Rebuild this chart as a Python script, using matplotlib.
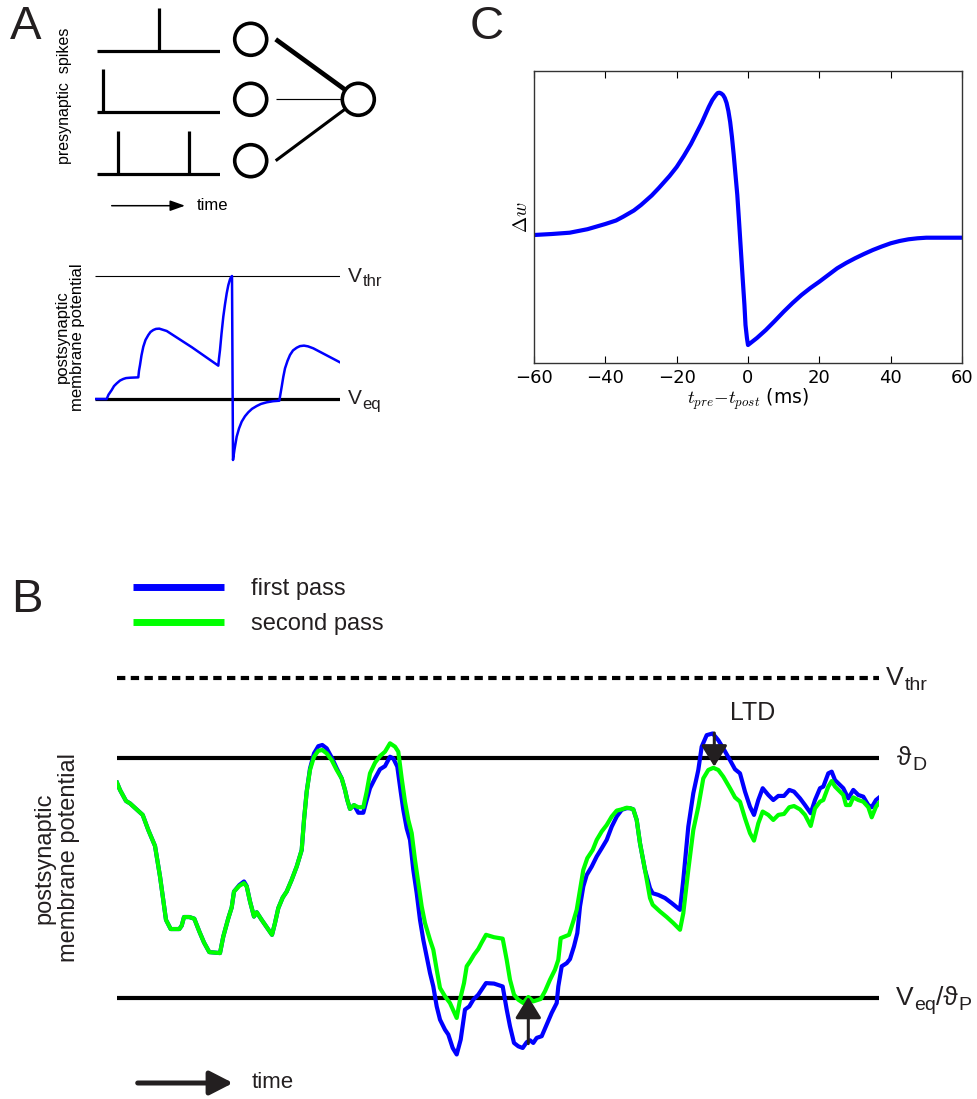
import matplotlib
matplotlib.use('Agg')
import matplotlib.pyplot as plt
from matplotlib.patches import Circle, FancyArrowPatch
from matplotlib.lines import Line2D

plt.rcParams['font.family'] = ['Liberation Sans', 'DejaVu Sans']

W, H = 978, 1099
INK = '#231f20'
BLUE = '#0000ff'
GREEN = '#00ff00'

# ---------------- data ----------------
# panel A: presynaptic spike trains (normalised time), top row first
spike_trains = [[0.50], [0.05], [0.17, 0.75]]
syn_weights = [1.0, 0.25, 0.65]

# panel A: postsynaptic membrane potential (0 = V_eq, 1 = V_thr)
mem_t = [0, 11.7, 13.5, 16.7, 19, 21.7, 25, 28.3, 31, 35, 43.3, 44, 45, 46.5, 48.3, 50.5, 53.3,
         55.5, 58.3, 61, 64.3, 71.7, 97, 123.3, 124, 125, 126.5, 128.3, 130, 131.7, 133.3, 135,
         136, 137, 138, 139.5, 141.7, 144, 146.7, 150, 153.3, 157, 161.7, 166, 171.7, 178, 184.3,
         186.7, 188.3, 190, 192.5, 195, 198, 201.7, 205, 209, 213, 218.3, 245]
mem_v = [0, 0, 0.035, 0.073, 0.105, 0.127, 0.15, 0.163, 0.17, 0.173, 0.176, 0.23, 0.276, 0.355,
         0.425, 0.48, 0.52, 0.545, 0.561, 0.57, 0.572, 0.553, 0.42, 0.271, 0.33, 0.398, 0.53,
         0.669, 0.77, 0.859, 0.925, 0.973, 0.99, 1.0, -0.496, -0.41, -0.306, -0.24, -0.184, -0.14,
         -0.108, -0.08, -0.057, -0.04, -0.027, -0.018, -0.014, 0.1, 0.18, 0.249, 0.31, 0.358,
         0.395, 0.417, 0.43, 0.434, 0.428, 0.412, 0.298]

# panel B: membrane potential, two passes (0 = V_eq / theta_P, 1 = theta_D)
V_EQ, THETA_D, V_THR = 0.0, 1.0, 1.332

first_t = [0, 3, 9, 13, 19.7, 25.7, 31.3, 38, 43, 49, 53.7, 62.3, 64.7, 67, 72.3, 77.3, 82.3, 87,
           92.3, 103, 106.3, 111.3, 114.7, 117, 122.3, 127, 129.7, 133, 137, 139.7, 144.7, 149.7,
           155, 158, 161.3, 165.7, 169.7, 174.7, 179.7, 184.7, 187, 189.7, 193, 197, 201.3, 205.3,
           209.7, 214.7, 219.7, 224.7, 228, 230.3, 233, 237, 241.3, 246.3, 249.7, 253, 258, 263,
           268, 273, 276.3, 280.3, 283.7, 286.3, 289.7, 293, 296.3, 299.7, 303, 306.3, 309.7, 313,
           316.3, 319.7, 323, 328, 331.3, 335.7, 339.7, 343.7, 348, 352.3, 356.3, 361.3, 364.7,
           369, 377, 385.7, 389.7, 393, 397, 401.3, 405.7, 409.7, 413, 416.3, 419.7, 424.7, 429.7,
           434.7, 439.7, 441.3, 444.7, 449.7, 453, 457, 460.3, 463, 466.3, 469.7, 474.7, 479.7,
           484.7, 489.7, 494.7, 499.7, 504.7, 509.7, 513, 516.3, 519.7, 523, 528, 533, 535.7,
           541.3, 548, 554.7, 563, 566.3, 571.3, 576.3, 581.3, 584.7, 589.7, 595.7, 601.3, 606.3,
           613, 618, 623, 628, 633, 637, 641.3, 645.7, 651.3, 656.3, 661.3, 667, 672.3, 677, 683,
           688, 693.7, 698, 703, 706.3, 711.3, 714.7, 718, 726.3, 731.3, 736.3, 741.3, 746.3,
           751.3, 754.7, 759, 762.3]
first_v = [0.896, 0.866, 0.820, 0.810, 0.785, 0.762, 0.699, 0.633, 0.506, 0.325, 0.287, 0.287,
           0.301, 0.337, 0.337, 0.330, 0.277, 0.231, 0.191, 0.187, 0.256, 0.332, 0.377, 0.443,
           0.470, 0.485, 0.466, 0.402, 0.339, 0.357, 0.325, 0.295, 0.263, 0.312, 0.374, 0.418,
           0.443, 0.492, 0.547, 0.616, 0.741, 0.859, 0.955, 1.018, 1.048, 1.053, 1.039, 1.001,
           0.956, 0.914, 0.866, 0.824, 0.787, 0.803, 0.771, 0.771, 0.824, 0.873, 0.914, 0.952,
           0.965, 1.004, 0.997, 0.963, 0.859, 0.783, 0.706, 0.658, 0.533, 0.436, 0.325, 0.242,
           0.173, 0.104, 0.048, -0.035, -0.090, -0.132, -0.152, -0.208, -0.235, -0.173, -0.048,
           -0.035, -0.007, 0.014, 0.035, 0.062, 0.060, 0.048, -0.048, -0.118, -0.187, -0.201,
           -0.208, -0.184, -0.176, -0.187, -0.166, -0.159, -0.111, -0.062, -0.021, 0.048, 0.132,
           0.145, 0.162, 0.215, 0.270, 0.381, 0.464, 0.512, 0.547, 0.589, 0.623, 0.658, 0.713,
           0.755, 0.783, 0.790, 0.790, 0.785, 0.741, 0.644, 0.533, 0.457, 0.436, 0.429, 0.416,
           0.395, 0.367, 0.492, 0.713, 0.852, 0.949, 1.046, 1.094, 1.101, 1.073, 1.039, 0.990,
           0.952, 0.935, 0.859, 0.796, 0.762, 0.824, 0.873, 0.845, 0.824, 0.841, 0.841, 0.866,
           0.859, 0.831, 0.803, 0.769, 0.824, 0.873, 0.880, 0.935, 0.942, 0.907, 0.873, 0.831,
           0.866, 0.845, 0.838, 0.803, 0.794, 0.824, 0.835]

second_t = [0, 3, 9, 13, 19.7, 25.7, 31.3, 38, 43, 49, 53.7, 62.3, 64.7, 67, 72.3, 77.3, 82.3, 87,
            92.3, 103, 106.3, 111.3, 114.7, 117, 122.3, 127, 129.7, 133, 137, 139.7, 144.7, 149.7,
            155, 158, 161.3, 165.7, 169.7, 174.7, 179.7, 184.7, 187, 189.7, 193, 197, 201.3, 205.3,
            209.7, 214.7, 219.7, 224.7, 228, 230.3, 233, 237, 241.3, 246.3, 249.7, 253, 258, 263,
            268, 273, 278, 281.3, 284.7, 288, 291.3, 294.7, 298, 301.3, 304.7, 308, 313, 316.3,
            319.7, 323, 328, 333, 339.7, 343, 347, 349.7, 353, 357, 361.3, 364.7, 369, 377, 385.7,
            389.7, 393, 397, 401.3, 406.3, 411.3, 416.3, 423.7, 428, 433, 438, 441.3, 443.7, 448,
            452, 456.3, 459.7, 463, 466.3, 470.3, 475.7, 479.7, 484.7, 489.7, 494.7, 499.7, 504.7,
            509.7, 513, 516.3, 519.7, 523, 528, 533, 535.7, 543, 549.7, 556.3, 563, 566.3, 571.3,
            576.3, 581.3, 586.3, 591.3, 596.3, 601.3, 606.3, 613, 618, 623, 628, 633, 637, 641.3,
            645.7, 651.3, 656.3, 661.3, 667, 672.3, 677, 683, 688, 693.7, 698, 703, 706.3, 711.3,
            714.7, 718, 726.3, 729, 733, 736.3, 741.3, 746.3, 751.3, 754.7, 759, 762.3]
second_v = [0.896, 0.866, 0.820, 0.810, 0.785, 0.762, 0.699, 0.633, 0.506, 0.325, 0.287, 0.287,
            0.301, 0.337, 0.337, 0.330, 0.277, 0.231, 0.191, 0.187, 0.256, 0.332, 0.377, 0.443,
            0.467, 0.478, 0.464, 0.402, 0.339, 0.357, 0.325, 0.295, 0.263, 0.312, 0.374, 0.418,
            0.443, 0.492, 0.547, 0.616, 0.741, 0.859, 0.949, 1.004, 1.029, 1.032, 1.018, 0.990,
            0.949, 0.914, 0.866, 0.824, 0.787, 0.803, 0.794, 0.794, 0.859, 0.935, 0.979, 1.007,
            1.025, 1.060, 1.046, 1.025, 0.914, 0.817, 0.741, 0.686, 0.575, 0.478, 0.381, 0.312,
            0.242, 0.201, 0.118, 0.042, 0.007, -0.021, -0.083, -0.007, 0.062, 0.132, 0.152, 0.180,
            0.204, 0.231, 0.263, 0.253, 0.247, 0.159, 0.076, 0.014, -0.007, -0.021, 0.004, -0.014,
            -0.004, 0.028, 0.076, 0.118, 0.159, 0.249, 0.256, 0.263, 0.319, 0.367, 0.450, 0.533,
            0.582, 0.616, 0.658, 0.693, 0.720, 0.755, 0.780, 0.785, 0.792, 0.790, 0.785, 0.741,
            0.644, 0.533, 0.416, 0.388, 0.360, 0.337, 0.312, 0.284, 0.353, 0.533, 0.699, 0.796,
            0.914, 0.949, 0.958, 0.949, 0.921, 0.873, 0.835, 0.817, 0.748, 0.686, 0.655, 0.727,
            0.776, 0.762, 0.741, 0.762, 0.766, 0.794, 0.799, 0.785, 0.762, 0.716, 0.789, 0.817,
            0.824, 0.880, 0.903, 0.880, 0.845, 0.803, 0.803, 0.835, 0.824, 0.817, 0.794, 0.752,
            0.796, 0.813]

# LTP / LTD arrows: (time, from, to)
ltp_arrow = (411.3, -0.19, 0.005)
ltd_arrow = (597.3, 1.103, 0.963)

# panel C: STDP window
stdp_dt = [-60, -55, -50, -45, -40, -37, -35, -32, -30, -27, -25, -22, -20, -18, -17, -16, -15,
           -14, -13, -12, -11, -10, -9, -8.5, -8, -7.5, -7, -6.5, -6, -5.5, -5, -4.5, -4, -3.5,
           -3, -2.5, -2, -1.5, -1, -0.7, -0.3, 0, 2.5, 5, 7.5, 10, 12.5, 15, 17.5, 20, 22.5, 25,
           27.5, 30, 32.5, 35, 37.5, 40, 42.5, 45, 47.5, 50, 55, 60]
stdp_dw = [0, 1.0, 2.3, 5.8, 11, 14.5, 18.3, 24.5, 30, 39.5, 47, 59, 68, 79, 85, 91, 98, 105,
           112, 120, 128, 135, 140, 142, 142.3, 141.5, 140, 137, 132, 124, 113, 98, 80, 60, 40,
           13, -15, -43, -70, -90, -103, -110, -103, -95, -86, -76.7, -68, -60, -53, -46.7, -40,
           -33.3, -28, -23.3, -19, -15, -11.5, -8.3, -6, -4.3, -3.3, -2.7, -2.7, -2.7]
stdp_ticks = [-60, -40, -20, 0, 20, 40, 60]


def px_axes(fig, left, top, right, bottom):
    return fig.add_axes([left / W, 1 - bottom / H, (right - left) / W, (bottom - top) / H])


def label_with_subs(ax, x, y, parts, size, sub_size):
    # parts alternate: main, subscript, main, subscript ...
    main = ax.text(x, y, parts[0], fontsize=size, va='center', ha='left', color=INK, clip_on=False)
    prev = main
    for i, txt in enumerate(parts[1:]):
        if i % 2 == 0:
            prev = ax.annotate(txt, xy=(1, 0), xycoords=(prev, main), xytext=(0.5, 0),
                               textcoords='offset points', fontsize=sub_size, va='baseline',
                               ha='left', color=INK)
        else:
            prev = ax.annotate(txt, xy=(1, 0.5), xycoords=(prev, main), fontsize=size,
                               va='center', ha='left', color=INK)
    return main


fig = plt.figure(figsize=(W / 100, H / 100), dpi=100)

# overlay in pixel units for the schematic parts
ov = fig.add_axes([0, 0, 1, 1])
ov.set_xlim(0, W)
ov.set_ylim(H, 0)
ov.axis('off')

for letter, (lx, ly) in zip('ABC', [(26, 27), (27, 600), (487, 27)]):
    ov.text(lx, ly, letter, fontsize=34, ha='center', va='center', color=INK)

# ---------------- panel A, spikes ----------------
ax_s = px_axes(fig, 97, 1.9, 220, 186)
ax_s.set_xlim(0, 1)
ax_s.set_ylim(-0.2, 2.8)
ax_s.axis('off')
for i, train in enumerate(spike_trains):
    row = len(spike_trains) - 1 - i
    ax_s.hlines(row, 0, 1, color='black', lw=2.3)
    ax_s.vlines(train, row, row + 0.7, color='black', lw=2.3)

in_x, out_x, r = 250.7, 358.3, 16
in_y = [39.3, 99.3, 160.7]
out_y = 99.3
for cy, w in zip(in_y, syn_weights):
    x0, y0 = in_x + 25, cy
    dx, dy = x0 - out_x, y0 - out_y
    d = (dx ** 2 + dy ** 2) ** 0.5
    ov.plot([x0, out_x + r * dx / d], [y0, out_y + r * dy / d], color='black',
            lw=3.4 * w, solid_capstyle='butt')
    ov.add_patch(Circle((in_x, cy), r, fill=False, lw=2.6, color='black'))
ov.add_patch(Circle((out_x, out_y), r, fill=False, lw=2.6, color='black'))

ov.add_patch(FancyArrowPatch((111.7, 205.7), (185, 205.7), lw=1.1, color='black',
                             arrowstyle='-|>,head_length=0.9,head_width=0.32',
                             mutation_scale=10, shrinkA=0, shrinkB=0))
ov.text(196.7, 205, 'time', fontsize=12, va='center', ha='left')
ov.text(65, 96, 'presynaptic  spikes', fontsize=11.5, rotation=90, ha='center', va='center')
ov.text(70, 337, 'postsynaptic\nmembrane potential', fontsize=12, rotation=90,
        ha='center', va='center', linespacing=1.0)

# ---------------- panel A, membrane ----------------
ax_m = px_axes(fig, 95, 263.7, 340, 472.8)
ax_m.set_xlim(0, 245)
ax_m.set_ylim(-0.6, 1.1)
ax_m.axis('off')
ax_m.hlines(1, 0, 245, color='black', lw=0.8)
ax_m.hlines(0, 0, 245, color='black', lw=2.3)
ax_m.plot(mem_t, mem_v, color=BLUE, lw=1.8, solid_joinstyle='round')
label_with_subs(ax_m, 253, 1.0, ['V', 'thr'], 15, 12)
label_with_subs(ax_m, 253, 0.0, ['V', 'eq'], 15, 12)

# ---------------- panel B ----------------
ax_b = px_axes(fig, 117, 649.6, 879, 1082.1)
ax_b.set_xlim(0, 762)
ax_b.set_ylim(-0.35, 1.45)
ax_b.axis('off')
ax_b.hlines(V_THR, 0, 762, color='black', lw=3, linestyles=[(0, (2, 1.3))])
ax_b.hlines([THETA_D, V_EQ], 0, 762, color='black', lw=3)
ax_b.plot(first_t, first_v, color=BLUE, lw=3, solid_joinstyle='round')
ax_b.plot(second_t, second_v, color=GREEN, lw=3, solid_joinstyle='round')

for t, v0, v1 in [ltp_arrow, ltd_arrow]:
    ax_b.add_patch(FancyArrowPatch((t, v0), (t, v1), lw=2.2, color=INK,
                                   arrowstyle='-|>,head_length=0.65,head_width=0.4',
                                   mutation_scale=20, shrinkA=0, shrinkB=0, zorder=5))
ax_b.text(636, 1.186, 'LTD', fontsize=18, ha='center', va='center', color=INK)

label_with_subs(ax_b, 769, V_THR, ['V', 'thr'], 19, 14)
label_with_subs(ax_b, 780, THETA_D, ['\u03d1', 'D'], 19, 14)
label_with_subs(ax_b, 779, V_EQ, ['V', 'eq', '/\u03d1', 'P'], 19, 14)

handles = [Line2D([], [], color=BLUE, lw=5, solid_capstyle='butt'),
           Line2D([], [], color=GREEN, lw=5, solid_capstyle='butt')]
leg = ax_b.legend(handles, ['first pass', 'second pass'], loc='upper left',
                  bbox_to_anchor=(133 / W, 1 - 578 / H), bbox_transform=fig.transFigure,
                  frameon=False, fontsize=17, handlelength=3.85, handletextpad=1.14,
                  labelspacing=0.55, borderpad=0, borderaxespad=0)
for txt in leg.get_texts():
    txt.set_color(INK)

ov.text(57, 858, 'postsynaptic\nmembrane potential', fontsize=17, rotation=90,
        ha='center', va='center', linespacing=1.15, color=INK)
ov.add_patch(FancyArrowPatch((137.7, 1083), (233, 1083), lw=3.6, color=INK,
                             arrowstyle='-|>,head_length=0.7,head_width=0.36',
                             mutation_scale=20, shrinkA=0, shrinkB=0))
ov.text(252, 1083, 'time', fontsize=16, va='center', ha='left', color=INK)

# ---------------- panel C ----------------
ax_c = px_axes(fig, 534, 71, 962, 363)
ax_c.plot(stdp_dt, stdp_dw, color=BLUE, lw=3, solid_joinstyle='round')
ax_c.set_xlim(-60, 60)
ax_c.set_ylim(-128, 164)
ax_c.set_xticks(stdp_ticks)
ax_c.set_yticks([])
ax_c.tick_params(axis='x', direction='in', top=True, length=5, labelsize=13, pad=4)
for lbl in ax_c.get_xticklabels():
    lbl.set_fontfamily('DejaVu Sans')
for sp in ax_c.spines.values():
    sp.set_linewidth(1.0)
    sp.set_color('#333333')
ax_c.set_xlabel(r'$t_{pre}{-}t_{post}$ (ms)', fontsize=13.5, math_fontfamily='cm',
                family='DejaVu Sans', labelpad=0)
ax_c.set_ylabel(r'$\Delta w$', fontsize=14, math_fontfamily='cm', labelpad=2)

fig.savefig('out.png', dpi=100)
